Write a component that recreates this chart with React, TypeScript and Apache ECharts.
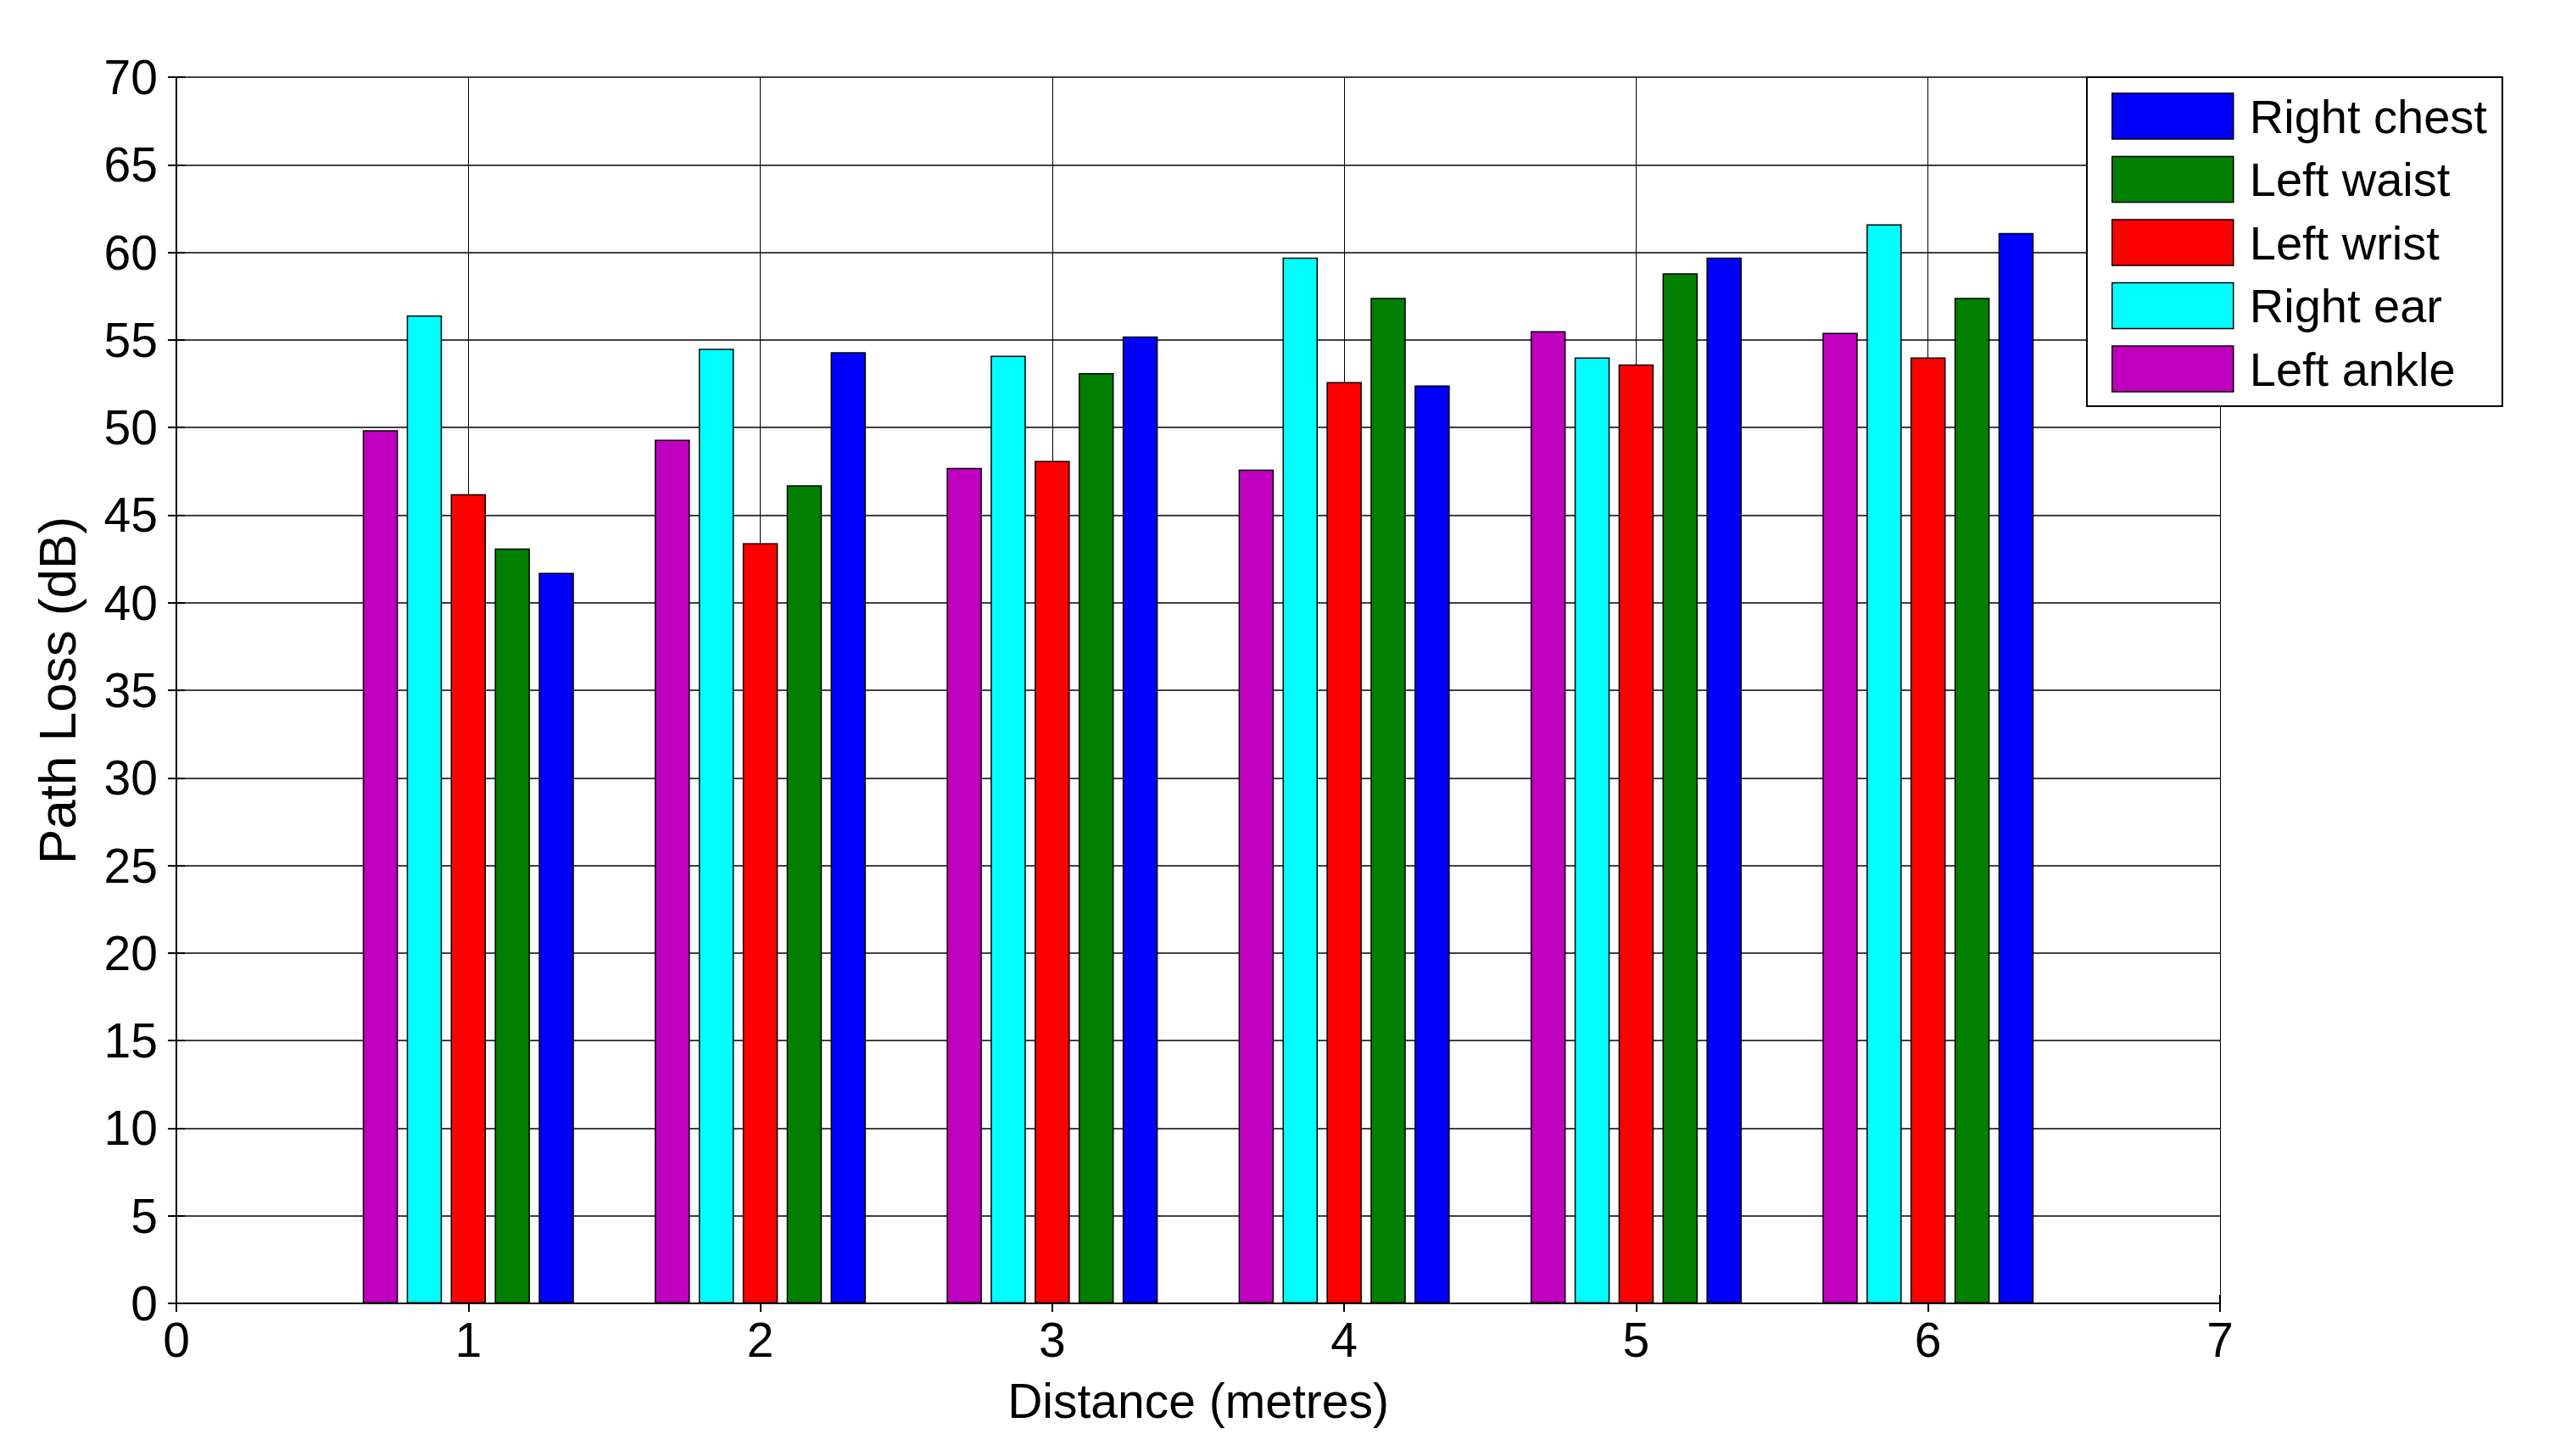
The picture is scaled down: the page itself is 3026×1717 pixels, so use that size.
import React, { useEffect, useRef } from "react";
import * as echarts from "echarts";

const distances = [1, 2, 3, 4, 5, 6];
const seriesNames = ["Left ankle", "Right ear", "Left wrist", "Left waist", "Right chest"];
const legendOrder = ["Right chest", "Left waist", "Left wrist", "Right ear", "Left ankle"];
const leftAnkle = [49.85, 49.3, 47.7, 47.6, 55.5, 55.4];
const rightEar = [56.4, 54.5, 54.1, 59.7, 54.0, 61.6];
const leftWrist = [46.2, 43.4, 48.1, 52.6, 53.6, 54.0];
const leftWaist = [43.1, 46.7, 53.1, 57.4, 58.8, 57.4];
const rightChest = [41.7, 54.3, 55.2, 52.4, 59.7, 61.1];
const seriesValues = [leftAnkle, rightEar, leftWrist, leftWaist, rightChest];
const seriesColors = ["#BF00BF", "#00FFFF", "#FF0000", "#007F00", "#0000FF"];

const FONT = "'Liberation Sans', Arial, sans-serif";

export default function App() {
  const ref = useRef<HTMLDivElement>(null);
  useEffect(() => {
    document.body.style.margin = "0";
    const chart = echarts.init(ref.current!, null, { renderer: "svg" });
    const axisLine = { show: true, lineStyle: { color: "#000", width: 2 } };
    const tick = { show: true, inside: true, length: 10, lineStyle: { color: "#000", width: 2 } };
    const option = {
      animation: false,
      backgroundColor: "#fff",
      textStyle: { fontFamily: FONT },
      grid: { left: 208, right: 408, top: 91, bottom: 180, containLabel: false },
      legend: {
        orient: "vertical",
        left: 2461,
        top: 91,
        data: legendOrder,
        itemWidth: 143,
        itemHeight: 54,
        itemGap: 18.5,
        padding: [18, 18, 16, 29],
        backgroundColor: "#fff",
        borderColor: "#000",
        borderWidth: 2,
        borderRadius: 0,
        icon: "rect",
        textStyle: { fontSize: 56, color: "#000", fontFamily: FONT, padding: [0, 0, 0, 14] },
        itemStyle: { borderColor: "#000", borderWidth: 1.5 },
        z: 10,
      },
      xAxis: [
        {
          type: "value",
          min: 0,
          max: 7,
          interval: 1,
          position: "bottom",
          name: "Distance (metres)",
          nameLocation: "middle",
          nameGap: 86,
          nameTextStyle: { fontSize: 57, color: "#000", fontFamily: FONT },
          axisLine,
          axisTick: tick,
          axisLabel: { fontSize: 57, color: "#000", margin: 14, fontFamily: FONT },
          splitLine: { show: true, lineStyle: { color: "#000", width: 1 } },
        },
        {
          type: "value",
          min: 0,
          max: 7,
          interval: 1,
          position: "top",
          axisLine,
          axisTick: tick,
          axisLabel: { show: false },
          splitLine: { show: false },
        },
      ],
      yAxis: [
        {
          type: "value",
          min: 0,
          max: 70,
          interval: 5,
          position: "left",
          name: "Path Loss (dB)",
          nameLocation: "middle",
          nameRotate: 90,
          nameGap: 110,
          nameTextStyle: { fontSize: 62, color: "#000", fontFamily: FONT },
          axisLine,
          axisTick: tick,
          axisLabel: { fontSize: 57, color: "#000", margin: 22, fontFamily: FONT },
          splitLine: { show: true, lineStyle: { color: "#000", width: 1.6 } },
        },
        {
          type: "value",
          min: 0,
          max: 70,
          interval: 5,
          position: "right",
          axisLine,
          axisTick: tick,
          axisLabel: { show: false },
          splitLine: { show: false },
        },
      ],
      series: seriesNames.map((name, si) => ({
        name,
        type: "bar",
        xAxisIndex: 0,
        yAxisIndex: 0,
        barWidth: 41.5,
        barGap: "25%",
        itemStyle: { color: seriesColors[si], borderColor: "#000", borderWidth: 1.5 },
        data: distances.map((d, i) => [d, seriesValues[si][i]]),
      })),
    };
    chart.setOption(option as any);
    return () => chart.dispose();
  }, []);
  return <div ref={ref} style={{ width: 3026, height: 1717 }} />;
}
